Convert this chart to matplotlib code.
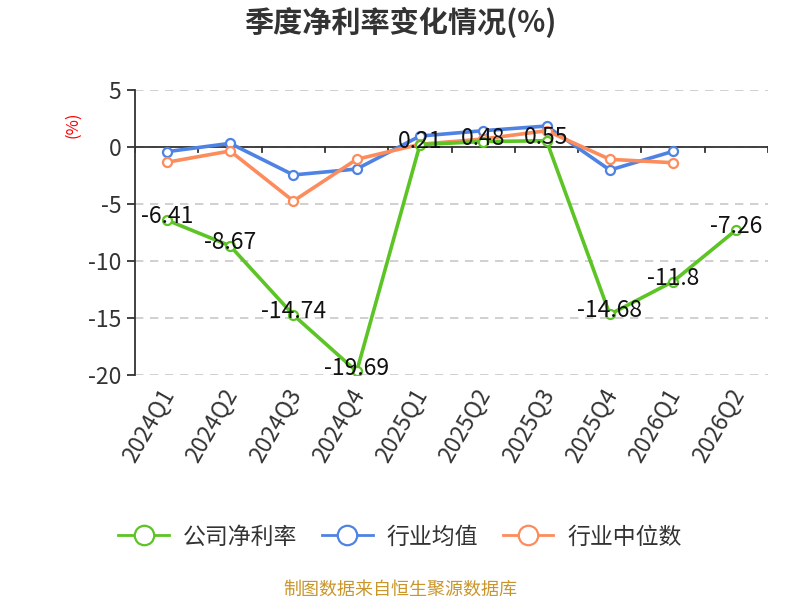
import numpy as np
import matplotlib.pyplot as plt
import matplotlib.transforms as mtransforms
from matplotlib.lines import Line2D

plt.rcParams['font.family'] = ['Noto Sans CJK SC', 'DejaVu Sans']

quarters = ['2024Q1', '2024Q2', '2024Q3', '2024Q4', '2025Q1', '2025Q2',
            '2025Q3', '2025Q4', '2026Q1', '2026Q2']
company = [-6.41, -8.67, -14.74, -19.69, 0.21, 0.48, 0.55, -14.68, -11.8, -7.26]
industry_avg = [-0.41, 0.32, -2.45, -1.93, 0.96, 1.43, 1.84, -2.02, -0.38]
industry_med = [-1.34, -0.35, -4.74, -1.08, 0.24, 0.70, 1.43, -1.08, -1.38]

green = '#5cc424'
blue = '#4f83e3'
orange = '#fd8c5c'

fig = plt.figure(figsize=(8, 6), dpi=100)
ax = fig.add_axes([0.169, 0.375, 0.791, 0.475])

x = np.arange(len(quarters))
mk = dict(marker='o', markersize=6.5, markerfacecolor='white', markeredgewidth=1.6, linewidth=2.6)
ax.plot(x[:len(industry_avg)], industry_avg, color=blue, zorder=3, **mk)
ax.plot(x[:len(industry_med)], industry_med, color=orange, zorder=4, **mk)
ax.plot(x, company, color=green, zorder=5, **mk)

for xi, v in zip(x, company):
    ax.text(xi, v + 0.3, f'{v:g}', ha='center', va='center', fontsize=16.5,
            color='#111111', zorder=6)

ax.set_xlim(-0.5, len(quarters) - 0.5)
ax.set_ylim(-20, 5)
ax.set_yticks([5, 0, -5, -10, -15, -20])
ax.set_yticklabels(['5', '0', '-5', '-10', '-15', '-20'])
ax.grid(axis='y', linestyle=(0, (5, 4)), color='#c8c8c8', linewidth=1.2)
ax.set_axisbelow(True)

for s in ['top', 'right', 'bottom']:
    ax.spines[s].set_visible(False)
ax.spines['left'].set_color('#333333')
ax.spines['left'].set_linewidth(1.3)
ax.tick_params(axis='y', length=6, width=1.3, color='#333333', labelsize=16.5,
               labelcolor='#333333', pad=4)

# x axis line at zero with ticks between categories
ax.axhline(0, color='#333333', linewidth=1.3, zorder=2)
for b in np.arange(-0.5, len(quarters), 1.0):
    ax.plot([b, b], [0, -0.45], color='#333333', linewidth=1.3, zorder=2)

ax.set_xticks(x)
ax.set_xticklabels(quarters, rotation=60, ha='right', rotation_mode='anchor',
                   fontsize=16.5, color='#333333')
ax.tick_params(axis='x', length=0, pad=7)
shift = mtransforms.ScaledTranslation(-8 / 100, 0, fig.dpi_scale_trans)
for lbl in ax.get_xticklabels():
    lbl.set_transform(lbl.get_transform() + shift)

ax.set_ylabel('(%)', color='red', fontsize=12)
ax.yaxis.set_label_coords(-0.085, 0.877)

fig.text(0.5, 0.962, '季度净利率变化情况(%)', ha='center', va='center',
         fontsize=21, fontweight='bold', color='#333333')

handles = [Line2D([0], [0], color=c, marker='o', markersize=14, markerfacecolor='white',
                  markeredgewidth=1.6, linewidth=2) for c in (green, blue, orange)]
fig.legend(handles, ['公司净利率', '行业均值', '行业中位数'], loc='center',
           bbox_to_anchor=(0.5, 0.105), ncol=3, frameon=False, fontsize=16.5,
           handlelength=2.2, columnspacing=1.1, handletextpad=0.6, labelcolor='#333333')

fig.text(0.5, 0.018, '制图数据来自恒生聚源数据库', ha='center', va='center',
         fontsize=13, color='#c9962b')

fig.savefig('out.png', dpi=100)
